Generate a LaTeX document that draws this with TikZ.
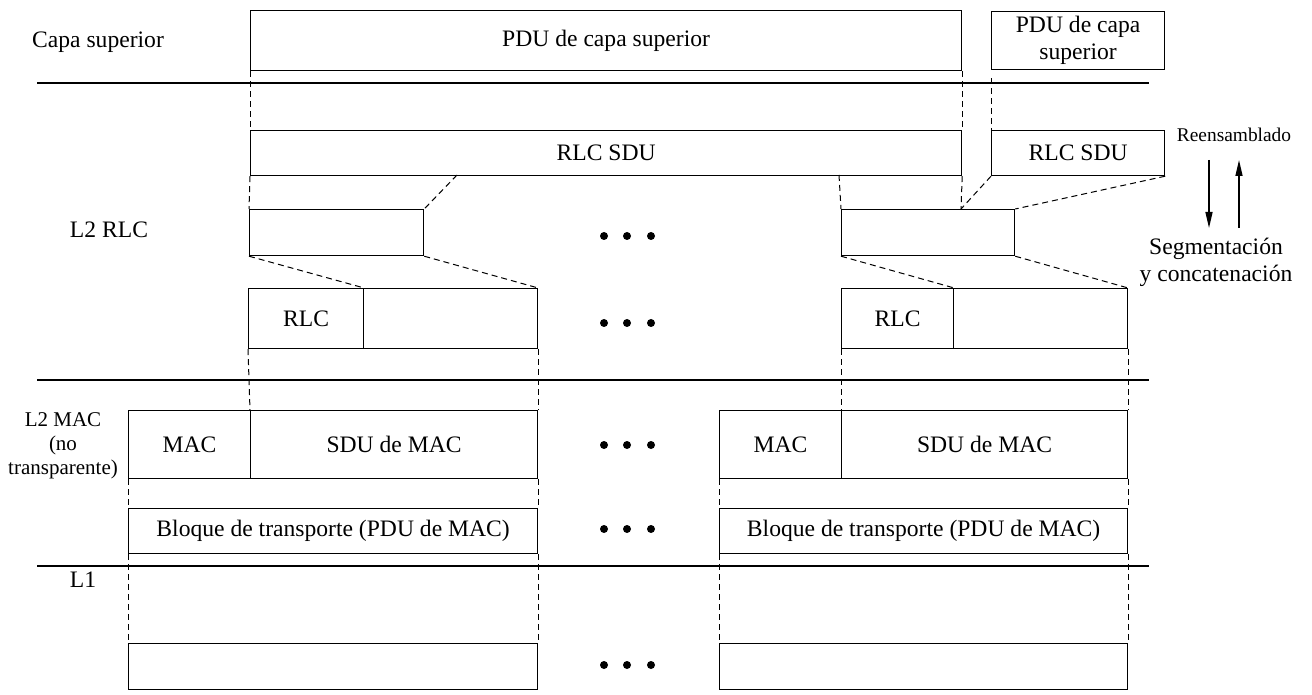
\documentclass[tikz,border=0pt]{standalone}
\usepackage{fontspec}
\setmainfont{Liberation Serif}
\usetikzlibrary{arrows.meta}

\begin{document}
\begin{tikzpicture}[x=0.5pt, y=-0.5pt, font=\fontsize{11.8}{13.5}\selectfont,
  box/.style = {draw, rectangle, inner sep=0pt, anchor=north west, line width=0.6pt},
  guide/.style = {densely dashed, line width=0.5pt},
  layer/.style = {line width=1.2pt},
  lbl/.style = {align=center, inner sep=0pt},
  updown/.style = {line width=0.7pt, -{Triangle[length=8pt,width=3.5pt]}}]
  \useasboundingbox (0,0) rectangle (1312,695);
  % layer boundaries
  \coordinate (lay1-w) at (37,83);  \coordinate (lay1-e) at (1149,83);
  \coordinate (lay2-w) at (37,380); \coordinate (lay2-e) at (1149,380);
  \coordinate (lay3-w) at (37,566); \coordinate (lay3-e) at (1149,566);
  \draw[layer] (lay1-w) -- (lay1-e);
  \draw[layer] (lay2-w) -- (lay2-e);
  \draw[layer] (lay3-w) -- (lay3-e);
  % layer names
  \node[lbl] (capa) at (98,42) {Capa superior};
  \node[lbl] (l2rlc) at (109,230) {L2 RLC};
  \node[lbl, font=\fontsize{10.5}{12}\selectfont] (l2mac) at (63,446) {L2 MAC\\(no\\transparente)};
  \node[lbl] (l1) at (83,580) {L1};
  % upper layer
  \node[box, minimum width=355.5pt, minimum height=30pt] (pdu) at (250,10) {PDU de capa superior};
  \node[box, minimum width=86.5pt, minimum height=29pt, align=center] (pduR) at (991,11) {PDU de capa\\superior};
  % RLC
  \node[box, minimum width=355.5pt, minimum height=22.5pt] (sdu) at (250,130) {RLC SDU};
  \node[box, minimum width=86.5pt, minimum height=22.5pt] (sduR) at (991,130) {RLC SDU};
  \node[box, minimum width=87pt, minimum height=23pt] (segA) at (249,209) {};
  \node[box, minimum width=86.5pt, minimum height=23pt] (segB) at (841,209) {};
  \node[box, minimum width=57.5pt, minimum height=30pt] (rlchA) at (248,288) {RLC};
  \node[box, minimum width=87pt, minimum height=30pt] (rlcpA) at (363,288) {};
  \node[box, minimum width=56pt, minimum height=30pt] (rlchB) at (841,288) {RLC};
  \node[box, minimum width=87pt, minimum height=30pt] (rlcpB) at (953,288) {};
  % MAC
  \node[box, minimum width=61pt, minimum height=34pt] (machA) at (128,410) {MAC};
  \node[box, minimum width=143.5pt, minimum height=34pt] (macsA) at (250,410) {SDU de MAC};
  \node[box, minimum width=61pt, minimum height=34pt] (machB) at (719,410) {MAC};
  \node[box, minimum width=143pt, minimum height=34pt] (macsB) at (841,410) {SDU de MAC};
  \node[box, minimum width=204.5pt, minimum height=22.5pt] (tbA) at (128,508) {Bloque de transporte (PDU de MAC)};
  \node[box, minimum width=204pt, minimum height=22.5pt] (tbB) at (719,508) {Bloque de transporte (PDU de MAC)};
  % L1
  \node[box, minimum width=204.5pt, minimum height=23pt] (phyA) at (128,643) {};
  \node[box, minimum width=204pt, minimum height=23pt] (phyB) at (719,643) {};
  % guides between the layers
  \coordinate (cutA) at (457,175);
  \coordinate (cutB) at (839,175);
  \coordinate (joinB) at (961,209);
  \draw[guide] (pdu.south west) -- (sdu.north west);
  \draw[guide] (pdu.south east) -- (sdu.north east);
  \draw[guide] ([yshift=-4pt]pduR.south west) -- (sduR.north west);
  \draw[guide] (sdu.south west) -- (segA.north west);
  \draw[guide] (cutA) -- (segA.north east);
  \draw[guide] (cutB) -- (segB.north west);
  \draw[guide] (sdu.south east) -- (joinB);
  \draw[guide] (sduR.south west) -- (joinB);
  \draw[guide] (sduR.south east) -- (segB.north east);
  \draw[guide] (segA.south west) -- (rlchA.north east);
  \draw[guide] (segA.south east) -- (rlcpA.north east);
  \draw[guide] (segB.south west) -- (rlchB.north east);
  \draw[guide] (segB.south east) -- (rlcpB.north east);
  \draw[guide] (rlchA.south west) -- (macsA.north west);
  \draw[guide] (rlcpA.south east) -- (macsA.north east);
  \draw[guide] (rlchB.south west) -- (macsB.north west);
  \draw[guide] (rlcpB.south east) -- (macsB.north east);
  \draw[guide] (machA.south west) -- (tbA.north west);
  \draw[guide] (macsA.south east) -- (tbA.north east);
  \draw[guide] (machB.south west) -- (tbB.north west);
  \draw[guide] (macsB.south east) -- (tbB.north east);
  \draw[guide] (tbA.south west) -- (phyA.north west);
  \draw[guide] (tbA.south east) -- (phyA.north east);
  \draw[guide] (tbB.south west) -- (phyB.north west);
  \draw[guide] (tbB.south east) -- (phyB.north east);
  % segmentation / reassembly
  \node[lbl, font=\fontsize{9.7}{11}\selectfont] (reens) at (1234,135) {Reensamblado};
  \node[lbl] (segm) at (1216,262) {Segmentación\\y concatenación};
  \coordinate (dnTop) at (1209,160); \coordinate (dnBot) at (1209,228);
  \coordinate (upTop) at (1239,160); \coordinate (upBot) at (1239,228);
  \draw[updown] (dnTop) -- (dnBot);
  \draw[updown] (upBot) -- (upTop);
  % ellipses
  \foreach \y in {236,323,445,529,665}
    \foreach \x in {604,627,651}
      \fill (\x,\y) circle (2pt);
\end{tikzpicture}
\end{document}
